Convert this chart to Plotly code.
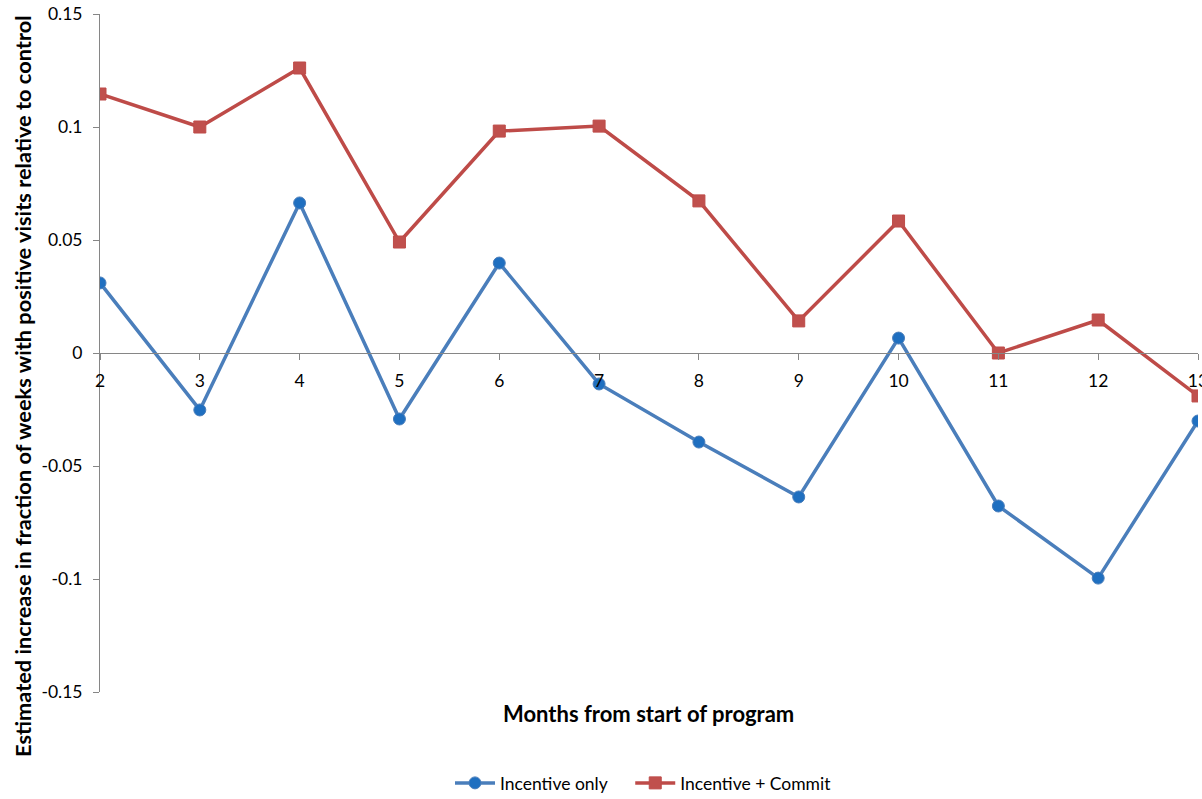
import plotly.graph_objects as go

months = [2, 3, 4, 5, 6, 7, 8, 9, 10, 11, 12, 13]
incentive_only = [0.031, -0.0252, 0.0664, -0.0292, 0.0398, -0.0137, -0.0394, -0.0637, 0.0066, -0.0677, -0.0996, -0.0301]
incentive_commit = [0.1146, 0.1000, 0.1261, 0.0491, 0.0982, 0.1004, 0.0673, 0.0142, 0.0584, 0.0000, 0.0146, -0.0190]
y_ticks = [0.15, 0.1, 0.05, 0, -0.05, -0.1, -0.15]
y_labels = ["0.15", "0.1", "0.05", "0", "-0.05", "-0.1", "-0.15"]

FONT = "Lato"
PAD = "\u00a0" * 4

fig = go.Figure()
fig.add_trace(go.Scatter(
    x=months, y=incentive_only, name="Incentive only" + PAD, mode="lines+markers",
    line=dict(color="#4A7EBB", width=3.5),
    marker=dict(symbol="circle", size=12, color="#1F6FC0", line=dict(color="#4A7EBB", width=1)),
))
fig.add_trace(go.Scatter(
    x=months, y=incentive_commit, name="Incentive + Commit", mode="lines+markers",
    line=dict(color="#BE4B48", width=3.5),
    marker=dict(symbol="square", size=12, color="#C0504D", line=dict(color="#BE4B48", width=1)),
))

fig.update_layout(
    width=1202, height=799,
    margin=dict(l=100, r=4, t=14, b=107, autoexpand=False),
    paper_bgcolor="white", plot_bgcolor="white",
    font=dict(family=FONT, size=17, color="black"),
    showlegend=True,
    legend=dict(orientation="h", x=(450 - 100) / 1098.0, xanchor="left", y=(692 - 783) / 678.0, yanchor="middle",
                font=dict(family=FONT, size=17.5), itemwidth=40),
    xaxis=dict(
        range=[2, 13], tickvals=months, ticktext=[str(m) for m in months],
        showgrid=False, zeroline=False, showline=True, linecolor="#868686", linewidth=1,
        ticks="outside", ticklen=6, tickcolor="#868686",
        anchor="free", position=0.5, ticklabeloverflow="allow",
        tickfont=dict(family=FONT, size=17.5), ticklabelstandoff=6,
    ),
    yaxis=dict(
        range=[-0.15, 0.15], tickvals=y_ticks, ticktext=y_labels,
        showgrid=False, zeroline=False, showline=True, linecolor="#868686", linewidth=1,
        ticks="outside", ticklen=6, tickcolor="#868686",
        tickfont=dict(family=FONT, size=17.5), ticklabelstandoff=7,
    ),
    annotations=[
        dict(text="<b>Months from start of program</b>", x=(648 - 100) / 1098.0, xref="paper",
             y=(692 - 713) / 678.0, yref="paper", xanchor="center", yanchor="middle",
             showarrow=False, font=dict(family=FONT, size=22)),
        dict(text="<b>Estimated increase in fraction of weeks with positive visits relative to control</b>",
             xref="paper", yref="paper", x=(22 - 100) / 1098.0, y=(692 - 386) / 678.0,
             xanchor="center", yanchor="middle", textangle=-90, showarrow=False,
             font=dict(family=FONT, size=21.8)),
    ],
)

fig.write_html("out.html")
